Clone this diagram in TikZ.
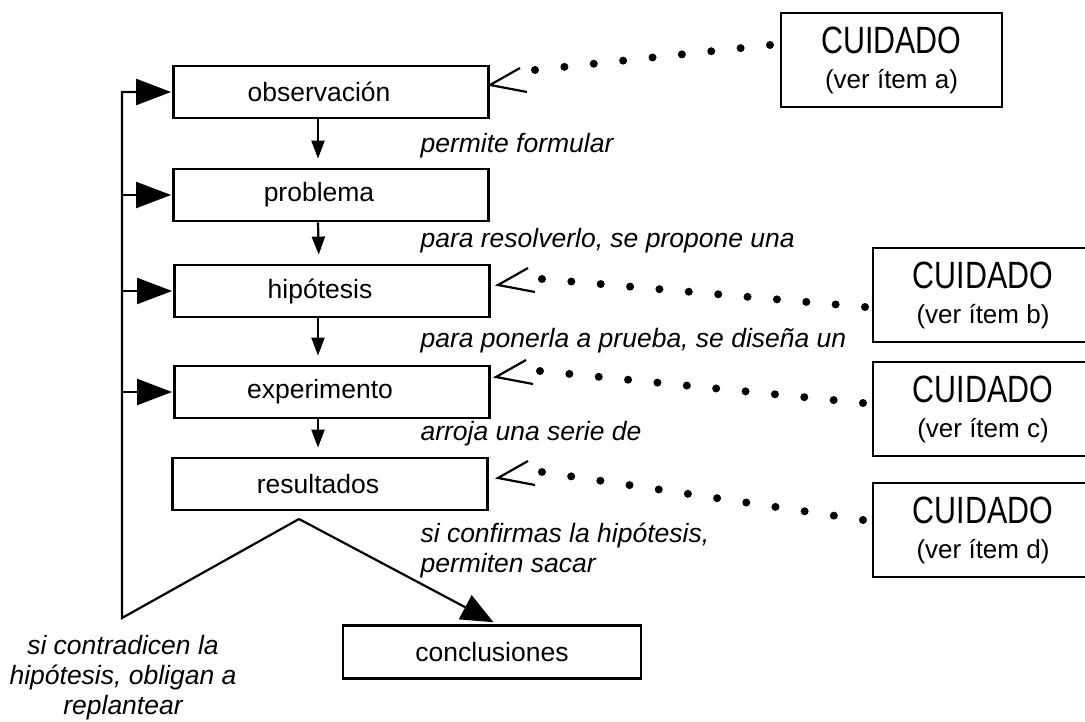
\documentclass[tikz,border=0pt]{standalone}
\usepackage{fontspec}
\setmainfont{Liberation Sans}
\newfontfamily\narrowfont[FakeStretch=0.8]{Liberation Sans}
\usetikzlibrary{arrows.meta,calc}

\begin{document}
\begin{tikzpicture}[x=1pt,y=-1pt,
    every node/.style={font=\fontsize{26.5}{30}\selectfont},
    caja/.style={draw,line width=2.8pt,minimum width=315pt,minimum height=52pt},
    aviso/.style={draw,line width=2.8pt,minimum width=220pt,minimum height=94pt,
      align=center,font=\fontsize{26}{35}\selectfont},
    nota/.style={font=\fontsize{26.5}{30}\selectfont\itshape},
    baja/.style={line width=2.2pt,shorten >=9pt,-{Triangle[length=18pt,width=13pt]}},
    vuelta/.style={line width=2.2pt,shorten >=1pt,-{Triangle[length=35pt,width=26pt]}},
    sale/.style={line width=2.2pt,shorten >=4pt,-{Triangle[length=32pt,width=27pt]}}]

        \useasboundingbox (0,0) rectangle (1085,722);

        \node[caja,label={[name=obs-t,xshift=-12pt]center:observación}] (obs) at (331,92) {};
        \node[caja,label={[name=prob-t,xshift=-12pt]center:problema}] (prob) at (331,195) {};
        \node[caja,label={[name=hip-t,xshift=-12pt]center:hipótesis}] (hip) at (332,291) {};
        \node[caja,label={[name=exp-t,xshift=-12pt]center:experimento}] (exp) at (332,392) {};
        \node[caja,label={[name=res-t,xshift=-12pt]center:resultados}] (res) at (330,484) {};
        \node[caja,minimum width=298pt,minimum height=53pt] (conc) at (492,652) {conclusiones};

        \node[aviso,minimum width=221pt] (cuia) at (891.5,60)
          {{\narrowfont\fontsize{38}{38}\selectfont CUIDADO}\\(ver ítem a)};
        \node[aviso] (cuib) at (983,295)
          {{\narrowfont\fontsize{38}{38}\selectfont CUIDADO}\\(ver ítem b)};
        \node[aviso] (cuic) at (983,409)
          {{\narrowfont\fontsize{38}{38}\selectfont CUIDADO}\\(ver ítem c)};
        \node[aviso] (cuid) at (983,530)
          {{\narrowfont\fontsize{38}{38}\selectfont CUIDADO}\\(ver ítem d)};

        \node[nota,anchor=base west] (n1) at (417,153) {permite formular};
        \node[nota,anchor=base west] (n2) at (417,248) {para resolverlo, se propone una};
        \node[nota,anchor=base west] (n3) at (417,347) {para ponerla a prueba, se diseña un};
        \node[nota,anchor=base west] (n4) at (417,440) {arroja una serie de};
        \node[nota,anchor=west,align=left] (n5) at (417,550)
          {si confirmas la hipótesis,\\permiten sacar};
        \node[nota,align=center] (n6) at (123,678)
          {si contradicen la\\hipótesis, obligan a\\replantear};

        \draw[baja] ([xshift=-13pt]obs.south) -- ([xshift=-13pt]prob.north);
        \draw[baja] ([xshift=-13pt]prob.south) -- ([xshift=-13pt]hip.north);
        \draw[baja] ([xshift=-14pt]hip.south) -- ([xshift=-14pt]exp.north);
        \draw[baja] ([xshift=-14pt]exp.south) -- ([xshift=-12pt]res.north);

        \coordinate (vertice) at (299,519);
        \coordinate (giro) at (122,618);
        \draw[vuelta] (vertice) -- (giro) |- (obs.west);
        \foreach \n in {prob,hip,exp}
          \draw[vuelta] (giro) |- (\n.west);
        \draw[sale] (vertice) -- ([xshift=5pt]conc.north);

        \coordinate (va) at (490,85);
        \coordinate (vb) at (498,285);
        \coordinate (vc) at (496,377);
        \coordinate (vd) at (498,478);
        \foreach \v in {va,vb,vc,vd}
          \draw[line width=2.2pt] ($(\v)+(30,-17)$) -- (\v) -- ($(\v)+(37,7)$);

        \coordinate (a1) at (535,70);
        \coordinate (a2) at (770,45);
        \coordinate (b1) at (542,279);
        \coordinate (b2) at (865,307);
        \coordinate (c1) at (540,371);
        \coordinate (c2) at (863,403);
        \coordinate (d1) at (542,472);
        \coordinate (d2) at (863,520);
        \foreach \s/\e/\k in {a1/a2/8,b1/b2/11,c1/c2/11,d1/d2/11}
          \foreach \i in {0,...,\k}
            \fill ($(\s)!\i/\k!(\e)$) circle (4pt);

      \end{tikzpicture}
\end{document}
